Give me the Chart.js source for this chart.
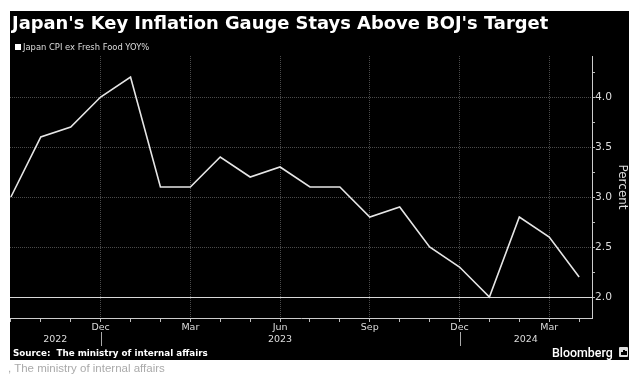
<!DOCTYPE html>
<html><head><meta charset="utf-8">
<script src="https://cdn.jsdelivr.net/npm/chart.js@4.4.1/dist/chart.umd.min.js"></script>
<style>
html,body{margin:0;padding:0;background:#fff;width:641px;height:379px;overflow:hidden;}
#panel{position:absolute;left:10px;top:11px;width:619px;height:349px;background:#000;}
#c{position:absolute;left:0;top:0;}
.t{position:absolute;white-space:pre;line-height:1;}
#title{left:12px;top:14px;font-family:'DejaVu Sans';font-weight:bold;font-size:17.9px;color:#fff;}
#legend{left:23px;top:43px;font-family:'DejaVu Sans';font-size:8.4px;color:#ddd;}
#sq{position:absolute;left:15px;top:44px;width:6px;height:6px;background:#fff;}
#source{left:13px;top:348.5px;font-family:'DejaVu Sans';font-weight:bold;font-size:8.75px;color:#fff;}
#bbg{left:552px;top:346.6px;font-family:Roboto;font-weight:500;font-size:12.4px;color:#fff;}
#icon{position:absolute;left:619px;top:347px;width:9px;height:10px;background:#ddd;border-radius:1px;}
#icon span{position:absolute;bottom:2px;width:1.5px;background:#000;}
#caption{left:8px;top:362.6px;font-family:'Liberation Sans';font-size:11.5px;color:#aaa;}
</style>
</head>
<body>
<div id="panel"></div>
<canvas id="c" width="641" height="379"></canvas>
<div class="t" id="title">Japan's Key Inflation Gauge Stays Above BOJ's Target</div>
<div id="sq"></div>
<div class="t" id="legend">Japan CPI ex Fresh Food YOY%</div>
<div class="t" id="source">Source:  The ministry of internal affairs</div>
<div class="t" id="bbg">Bloomberg</div>
<div id="icon"><span style="left:2px;height:3px"></span><span style="left:4px;height:5px"></span><span style="left:6px;height:4px"></span></div>
<div class="t" id="caption">, The ministry of internal affairs</div>
<script>
const months = ['Sep 2022','Oct 2022','Nov 2022','Dec 2022','Jan 2023','Feb 2023','Mar 2023','Apr 2023','May 2023','Jun 2023','Jul 2023','Aug 2023','Sep 2023','Oct 2023','Nov 2023','Dec 2023','Jan 2024','Feb 2024','Mar 2024','Apr 2024'];
const cpiExFreshFood = [3.0,3.6,3.7,4.0,4.2,3.1,3.1,3.4,3.2,3.3,3.1,3.1,2.8,2.9,2.5,2.3,2.0,2.8,2.6,2.2];
const xTickLabels = ['','','','Dec','','','Mar','','','Jun','','','Sep','','','Dec','','','Mar',''];
const yearLabels = ['2022','2023','2024'];
const yTickValues = [2.0,2.25,2.5,2.75,3.0,3.25,3.5,3.75,4.0,4.25];
const yTickLabels = ['2.0','','2.5','','3.0','','3.5','','4.0',''];
const targetLevel = 2.0;

const X_MIN = -0.03, X_MAX = 19.43, Y_MIN = 1.79, Y_MAX = 4.41;

// year boundaries are drawn at the December ticks; year labels centred between them
const yearBoundaries = xTickLabels.map((l,i)=>l==='Dec'?i:null).filter(v=>v!==null);
const edges = [X_MIN, ...yearBoundaries, X_MAX];
const yearCenters = yearLabels.map((_,i)=>(edges[i]+edges[i+1])/2);

const separatorPlugin = {
  id:'sep',
  afterDraw(chart){
    const xs = chart.scales.x, ctx = chart.ctx;
    ctx.save();
    ctx.strokeStyle = '#aaa'; ctx.lineWidth = 1;
    yearBoundaries.forEach(v=>{
      const px = Math.round(xs.getPixelForValue(v)) + 0.5;
      ctx.beginPath(); ctx.moveTo(px, xs.bottom - 2); ctx.lineTo(px, xs.bottom + 12); ctx.stroke();
    });
    ctx.restore();
  }
};

const GRID = '#4a4a4a';
const dashFor = c => [1,1];
new Chart(document.getElementById('c'), {
  type:'line',
  data:{datasets:[{
    label:'Japan CPI ex Fresh Food YOY%',
    data: cpiExFreshFood.map((v,i)=>({x:i,y:v})),
    borderColor:'#e6e6e6', borderWidth:1.6, pointRadius:0, tension:0, fill:false
  }]},
  options:{
    responsive:false, animation:false, devicePixelRatio:1,
    layout:{padding:{left:10,top:56,right:8,bottom:33}},
    plugins:{legend:{display:false},title:{display:false},tooltip:{enabled:false}},
    scales:{
      x:{
        type:'linear', position:'bottom', min:X_MIN, max:X_MAX,
        afterBuildTicks:s=>{ s.ticks = months.map((m,i)=>({value:i})); },
        afterFit:s=>{ s.height = 16; },
        ticks:{autoSkip:false, maxRotation:0, minRotation:0, padding:0, color:'#ddd',
          font:{family:'DejaVu Sans', size:9.5}, callback:(v,i)=>xTickLabels[i]},
        grid:{color:c=>(c.index!==undefined && xTickLabels[c.index]) ? GRID : 'rgba(0,0,0,0)',
          tickColor:'#bbb', tickLength:4, lineWidth:1},
        border:{color:'#ccc', width:1, dash:[1,1]}
      },
      x2:{
        type:'linear', position:'bottom', min:X_MIN, max:X_MAX,
        afterBuildTicks:s=>{ s.ticks = yearCenters.map(v=>({value:v})); },
        afterFit:s=>{ s.height = 12; },
        grid:{display:false, drawTicks:false}, border:{display:false},
        ticks:{autoSkip:false, maxRotation:0, minRotation:0, padding:0, color:'#ddd',
          font:{family:'DejaVu Sans', size:9.5}, callback:(v,i)=>yearLabels[i]}
      },
      y:{
        type:'linear', position:'right', min:Y_MIN, max:Y_MAX,
        afterBuildTicks:s=>{ s.ticks = yTickValues.map(v=>({value:v})); },
        afterFit:s=>{ s.width = 41; },
        ticks:{padding:0, color:'#ddd', font:{family:'DejaVu Sans', size:10.7}, callback:(v,i)=>yTickLabels[i]},
        grid:{
          color:c=>{
            if (c.index===undefined || !c.tick) return 'rgba(0,0,0,0)';
            if (!yTickLabels[c.index]) return 'rgba(0,0,0,0)';
            return Math.abs(c.tick.value-targetLevel)<1e-9 ? '#d9d9d9' : GRID;
          },
          tickColor:'#bbb', tickLength:3, lineWidth:1
        },
        border:{color:'#ccc', width:1,
          dash:c=>(c.tick && Math.abs(c.tick.value-targetLevel)<1e-9) ? [] : [1,1]},
        title:{display:true, text:'Percent', color:'#ddd', font:{family:'DejaVu Sans', size:12}}
      }
    }
  },
  plugins:[separatorPlugin]
});
</script>
</body></html>
